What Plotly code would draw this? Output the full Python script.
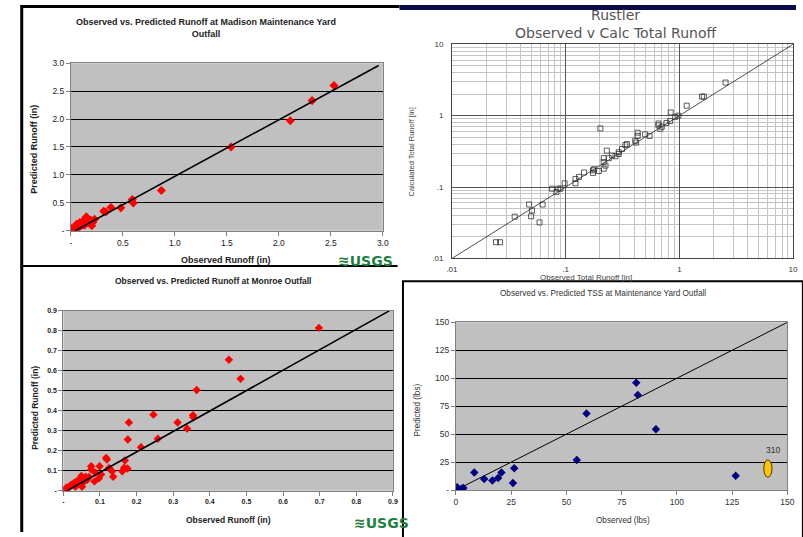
import plotly.graph_objects as go

W, H = 803, 537

# ---------------- data ----------------
# Top-left: Madison Maintenance Yard runoff
madison_obs = [2.53, 2.32, 2.11, 1.54, 0.87, 0.59, 0.60, 0.48, 0.385, 0.315, 0.335, 0.148, 0.227, 0.19, 0.20,
               0.18, 0.117, 0.085, 0.157, 0.054, 0.10, 0.069, 0.038, 0.006, 0.0, 0.02, 0.03, 0.045, 0.06, 0.075,
               0.09, 0.11, 0.13, 0.14, 0.21, 0.015, 0.05, 0.08]
madison_pred = [2.60, 2.33, 1.97, 1.50, 0.72, 0.557, 0.497, 0.41, 0.416, 0.35, 0.334, 0.25, 0.205, 0.19, 0.088,
                0.176, 0.176, 0.146, 0.146, 0.117, 0.088, 0.088, 0.058, 0.041, 0.018, 0.01, 0.03, 0.06, 0.10, 0.12,
                0.10, 0.13, 0.10, 0.13, 0.15, 0.0, 0.02, 0.07]
madison_fit_x = [0.04, 2.96]
madison_fit_y = [0.0, 2.96]
madison_ticks = [0, 0.5, 1.0, 1.5, 2.0, 2.5, 3.0]
madison_ticktext = ["-", "0.5", "1.0", "1.5", "2.0", "2.5", "3.0"]

# Top-right: Rustler (log-log)
rustler_obs = [0.0244, 0.0265, 0.0356, 0.0477, 0.0497, 0.0506, 0.0589, 0.0627, 0.076, 0.083, 0.086, 0.090,
               0.098, 0.122, 0.122, 0.131, 0.145, 0.174, 0.174, 0.178, 0.196, 0.202, 0.216, 0.224, 0.216, 0.23,
               0.216, 0.24, 0.256, 0.274, 0.293, 0.293, 0.313, 0.335, 0.346, 0.409, 0.417, 0.43, 0.43, 0.50,
               0.546, 0.655, 0.68, 0.655, 0.77, 0.83, 0.84, 0.92, 0.98, 0.70, 1.16, 1.58, 1.64, 2.55]
rustler_calc = [0.0169, 0.0169, 0.0385, 0.057, 0.039, 0.047, 0.032, 0.057, 0.095, 0.085, 0.095, 0.095,
                0.113, 0.113, 0.13, 0.139, 0.16, 0.172, 0.158, 0.178, 0.168, 0.663, 0.181, 0.20, 0.224, 0.324,
                0.254, 0.254, 0.277, 0.27, 0.291, 0.308, 0.341, 0.387, 0.40, 0.445, 0.42, 0.578, 0.52, 0.548,
                0.52, 0.73, 0.656, 0.777, 0.79, 0.84, 1.11, 0.96, 1.0, 0.70, 1.38, 1.85, 1.85, 2.91]
rustler_line = [0.01, 10]
rustler_ticks = [0.01, 0.1, 1, 10]
rustler_ticktext = [".01", ".1", "1", "10"]
rustler_minor = [m * d for d in [0.01, 0.1, 1] for m in range(2, 10)]

# Bottom-left: Monroe Outfall runoff
monroe_obs = [0.698, 0.452, 0.484, 0.364, 0.246, 0.354, 0.355, 0.312, 0.338, 0.179, 0.176, 0.258, 0.212, 0.117,
              0.119, 0.168, 0.166, 0.175, 0.161, 0.133, 0.136, 0.125, 0.099, 0.076, 0.076, 0.088, 0.085, 0.07,
              0.058, 0.049, 0.054, 0.045, 0.036, 0.027, 0.018, 0.009, 0.002, 0.097, 0.103, 0.061, 0.051, 0.04,
              0.03, 0.022, 0.012, 0.065, 0.033, 0.005]
monroe_pred = [0.815, 0.656, 0.56, 0.504, 0.381, 0.378, 0.368, 0.342, 0.311, 0.342, 0.257, 0.26, 0.218, 0.164,
               0.156, 0.152, 0.115, 0.111, 0.098, 0.098, 0.07, 0.114, 0.123, 0.123, 0.106, 0.09, 0.047, 0.069,
               0.065, 0.074, 0.041, 0.049, 0.046, 0.033, 0.025, 0.016, 0.003, 0.062, 0.082, 0.069, 0.02, 0.05,
               0.04, 0.03, 0.01, 0.055, 0.02, 0.008]
monroe_fit_x = [0.01, 0.89]
monroe_fit_y = [0.0, 0.90]
monroe_ticks = [0, 0.1, 0.2, 0.3, 0.4, 0.5, 0.6, 0.7, 0.8, 0.9]
monroe_ticktext = ["-", "0.1", "0.2", "0.3", "0.4", "0.5", "0.6", "0.7", "0.8", "0.9"]

# Bottom-right: TSS at Maintenance Yard
tss_obs = [81.6, 82.3, 59.1, 90.5, 54.7, 126.6, 8.3, 12.8, 16.5, 19.1, 20.6, 26.4, 25.8, 0.6, 1.2, 2.7, 3.4]
tss_pred = [95.9, 85.1, 68.4, 54.4, 26.9, 12.9, 15.8, 9.9, 8.5, 10.8, 15.8, 19.6, 6.4, 2.6, 0.9, 1.5, 1.8]
tss_line = [0, 150]
tss_outlier_x = [139.3, 143.0]
tss_outlier_y = [11.5, 27.0]
tss_outlier_label = "310"
tss_ticks = [0, 25, 50, 75, 100, 125, 150]
tss_xticktext = ["0", "25", "50", "75", "100", "125", "150"]
tss_yticktext = ["-", "25", "50", "75", "100", "125", "150"]


def px(x):
    return x / W


def py(y):
    return 1 - y / H


ARIAL = "Liberation Sans"
fig = go.Figure()

# --- top-left ---
fig.add_trace(go.Scatter(x=madison_obs, y=madison_pred, mode="markers", xaxis="x", yaxis="y",
                         marker=dict(symbol="diamond", size=7, color="#ff0000")))
fig.add_trace(go.Scatter(x=madison_fit_x, y=madison_fit_y, mode="lines", xaxis="x", yaxis="y",
                         line=dict(color="black", width=1.6)))
# --- top-right ---
fig.add_trace(go.Scatter(x=rustler_line, y=rustler_line, mode="lines", xaxis="x2", yaxis="y2",
                         line=dict(color="#222", width=0.8)))
fig.add_trace(go.Scatter(x=rustler_obs, y=rustler_calc, mode="markers", xaxis="x2", yaxis="y2",
                         marker=dict(symbol="square-open", size=5, color="#333", line=dict(width=0.8))))
# --- bottom-left ---
fig.add_trace(go.Scatter(x=monroe_obs, y=monroe_pred, mode="markers", xaxis="x3", yaxis="y3",
                         marker=dict(symbol="diamond", size=6.5, color="#ff0000")))
fig.add_trace(go.Scatter(x=monroe_fit_x, y=monroe_fit_y, mode="lines", xaxis="x3", yaxis="y3",
                         line=dict(color="black", width=1.6), cliponaxis=False))
# --- bottom-right ---
fig.add_trace(go.Scatter(x=tss_line, y=tss_line, mode="lines", xaxis="x4", yaxis="y4",
                         line=dict(color="black", width=1)))
fig.add_trace(go.Scatter(x=tss_obs, y=tss_pred, mode="markers", xaxis="x4", yaxis="y4",
                         marker=dict(symbol="diamond", size=6.5, color="#000080")))

gray_ax = dict(showline=True, linecolor="#808080", linewidth=1, mirror=True, zeroline=False,
               ticks="outside", ticklen=4, tickcolor="#808080", fixedrange=True)

fig.update_layout(
    width=W, height=H, margin=dict(l=0, r=0, t=0, b=0),
    paper_bgcolor="white", plot_bgcolor="white", showlegend=False,
    xaxis=dict(domain=[px(66), px(383)], anchor="y", range=[0, 3], tickvals=madison_ticks,
               ticktext=madison_ticktext, showgrid=False,
               tickfont=dict(family=ARIAL, size=8.5, color="#222"), **gray_ax),
    yaxis=dict(domain=[py(230), py(59.3)], anchor="x", range=[0, 3], tickvals=madison_ticks,
               ticktext=madison_ticktext, showgrid=True, gridcolor="black", gridwidth=1,
               tickfont=dict(family=ARIAL, size=8.5, color="#222"), **gray_ax),
    xaxis2=dict(domain=[px(453.3), px(800)], anchor="y2", type="log", range=[-2, 1],
                tickvals=rustler_ticks, ticktext=rustler_ticktext, showgrid=True, gridcolor="#555",
                gridwidth=1, showline=True, linecolor="#444", mirror=True, ticks="", zeroline=False,
                minor=dict(tickvals=rustler_minor, showgrid=True, gridcolor="#c4c4c4", gridwidth=0.6),
                tickfont=dict(family=ARIAL, size=8, color="#333"), ticklabelstandoff=3, fixedrange=True),
    yaxis2=dict(domain=[py(258.3), py(40)], anchor="x2", type="log", range=[-2, 1],
                tickvals=rustler_ticks, ticktext=rustler_ticktext, showgrid=True, gridcolor="#555",
                gridwidth=1, showline=True, linecolor="#444", mirror=True, ticks="", zeroline=False,
                minor=dict(tickvals=rustler_minor, showgrid=True, gridcolor="#c4c4c4", gridwidth=0.6),
                tickfont=dict(family=ARIAL, size=8, color="#333"), ticklabelstandoff=6, fixedrange=True),
    xaxis3=dict(domain=[px(58.3), px(393.3)], anchor="y3", range=[0, 0.9], tickvals=monroe_ticks,
                ticktext=monroe_ticktext, showgrid=False,
                tickfont=dict(family=ARIAL, size=7, color="#222", weight="bold"), **gray_ax),
    yaxis3=dict(domain=[py(495), py(311.7)], anchor="x3", range=[0, 0.9], tickvals=monroe_ticks,
                ticktext=monroe_ticktext, showgrid=True, gridcolor="black", gridwidth=1,
                tickfont=dict(family=ARIAL, size=7, color="#222", weight="bold"), **gray_ax),
    xaxis4=dict(domain=[px(457.3), px(794.3)], anchor="y4", range=[0, 150], tickvals=tss_ticks,
                ticktext=tss_xticktext, showgrid=False,
                tickfont=dict(family=ARIAL, size=8.5, color="#333"), **gray_ax),
    yaxis4=dict(domain=[py(494.3), py(323.3)], anchor="x4", range=[0, 150], tickvals=tss_ticks,
                ticktext=tss_yticktext, showgrid=True, gridcolor="black", gridwidth=1,
                tickfont=dict(family=ARIAL, size=8.5, color="#333"), **gray_ax),
)

shapes = []
# gray plot backgrounds
for xr, yr in [("x", "y"), ("x3", "y3"), ("x4", "y4")]:
    shapes.append(dict(type="rect", xref=f"{xr} domain", yref=f"{yr} domain", x0=0, x1=1, y0=0, y1=1,
                       fillcolor="#c0c0c0", line=dict(width=0), layer="below"))
# outlier ellipse
shapes.append(dict(type="circle", xref="x4", yref="y4", x0=tss_outlier_x[0], x1=tss_outlier_x[1],
                   y0=tss_outlier_y[0], y1=tss_outlier_y[1], fillcolor="#ffc400",
                   line=dict(color="#4a3c00", width=1), layer="above"))
# slide frame
shapes += [
    dict(type="line", xref="paper", yref="paper", x0=px(16), x1=px(16), y0=0, y1=1,
         line=dict(color="black", width=3)),
    dict(type="line", xref="paper", yref="paper", x0=px(15), x1=px(400), y0=py(1.5), y1=py(1.5),
         line=dict(color="black", width=3)),
    dict(type="rect", xref="paper", yref="paper", x0=px(400), x1=1, y0=py(5), y1=1,
         fillcolor="#0b0b4a", line=dict(width=0)),
    dict(type="line", xref="paper", yref="paper", x0=px(15), x1=px(398), y0=py(266), y1=py(266),
         line=dict(color="black", width=2)),
    dict(type="rect", xref="paper", yref="paper", x0=px(403.5), x1=px(810), y0=py(545), y1=py(281.5),
         line=dict(color="black", width=2)),
]
fig.update_layout(shapes=shapes)


def ann(text, x, y, size, color="#222", bold=False, angle=0, family=ARIAL):
    return dict(text=f"<b>{text}</b>" if bold else text, x=px(x), y=py(y), xref="paper", yref="paper",
                xanchor="center", yanchor="middle", showarrow=False, textangle=angle,
                font=dict(family=family, size=size, color=color))


annotations = [
    ann("Observed vs. Predicted Runoff at Madison Maintenance Yard<br>Outfall", 203.5, 23, 9, bold=True),
    ann("Observed Runoff (in)", 224, 260, 9, bold=True),
    ann("Predicted Runoff (in)", 29, 147, 9, bold=True, angle=-90),
    ann("Rustler<br>Observed v Calc Total Runoff", 620, 19.5, 14, color="#555", family="DejaVu Sans"),
    ann("Calculated Total Runoff [in]", 412, 150, 7.5, color="#444", angle=-90),
    ann("Observed Total Runoff [in]", 590, 278, 8, color="#444"),
    ann("Observed vs. Predicted Runoff at Monroe Outfall", 210.5, 281, 8.5, bold=True),
    ann("Observed Runoff (in)", 226, 525, 8.5, bold=True),
    ann("Predicted Runoff (in)", 30, 411, 8.5, bold=True, angle=-90),
    ann("Observed vs. Predicted TSS at Maintenance Yard Outfall", 607, 293.5, 8.2, color="#333"),
    ann("Observed (lbs)", 627, 525, 8.2, color="#333"),
    ann("Predicted (lbs)", 418, 413, 8.2, color="#333", angle=-90),
    ann("≋USGS", 365, 261, 14, color="#1f7f3f", bold=True, family="DejaVu Sans"),
    ann("≋USGS", 382, 528, 14, color="#1f7f3f", bold=True, family="DejaVu Sans"),
    dict(text=tss_outlier_label, x=143.6, y=36.2, xref="x4", yref="y4", showarrow=False,
         xanchor="center", yanchor="middle", font=dict(family=ARIAL, size=8.5, color="#333")),
]
fig.update_layout(annotations=annotations)

fig.write_html("out.html")
